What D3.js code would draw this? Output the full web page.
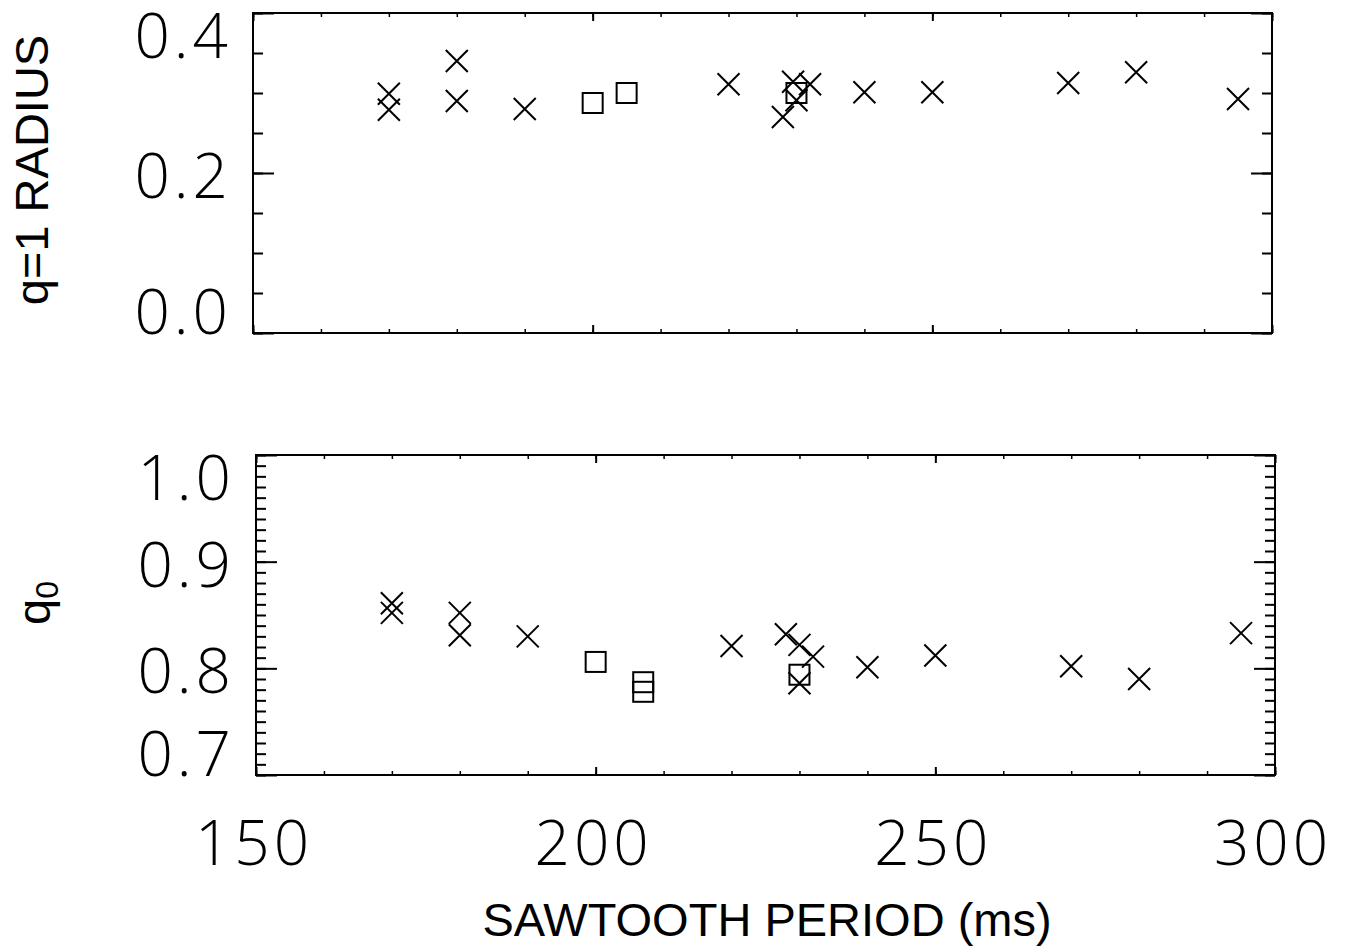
<!DOCTYPE html>
<meta charset="utf-8">
<head>
<style>
  body { margin: 0; background: #fff; }
  .num { font-family: "Open Sans", "Liberation Sans", sans-serif; font-weight: 300; font-size: 62px; letter-spacing: 4px; fill: #000; }
  .title { font-family: "Liberation Sans", Arial, sans-serif; font-size: 47px; fill: #000; }
  .frame { fill: none; stroke: #000; stroke-width: 2; }
  .tick line { stroke: #000; }
  .mark { fill: none; stroke: #000; stroke-width: 2; }
</style>
<script src="https://cdn.jsdelivr.net/npm/d3@7"></script>
</head>
<body>
<script>

// values
var topCrossX = [170, 170, 180, 180, 190, 220, 228, 229.5, 230, 232, 240, 250, 270, 280, 295];
var topCrossY = [0.299, 0.279, 0.340, 0.290, 0.280, 0.311, 0.270, 0.314, 0.291, 0.311, 0.301, 0.301, 0.3125, 0.326, 0.2925];
var topSquareX = [200, 205, 230];
var topSquareY = [0.2875, 0.300, 0.300];

var botCrossX = [170, 170, 180, 180, 190, 220, 228, 230, 232, 230, 240, 250, 270, 280, 295];
var botCrossY = [0.861, 0.852, 0.852, 0.831, 0.830, 0.821, 0.832, 0.822, 0.811, 0.786, 0.801, 0.812, 0.802, 0.790, 0.833];
var botSquareX = [200, 207, 207, 230];
var botSquareY = [0.806, 0.787, 0.778, 0.794];

var xTickLabels = ["150", "200", "250", "300"];
var topYLabels = ["0.0", "0.2", "0.4"];
var botYLabels = ["0.7", "0.8", "0.9", "1.0"];

var width = 1346, height = 948;
var svg = d3.select("body").append("svg")
    .attr("width", width)
    .attr("height", height);

var capH = 44;

function panel(p) {
  var x = d3.scaleLinear().domain([150, 300]).range([p.x0, p.x1]);
  var y = d3.scaleLinear().domain(p.yDomain).range([p.y1, p.y0]);
  var g = svg.append("g");

  // ticks on all four sides, pointing inwards
  function ticks(axis, tr, vals, len, sw) {
    var a = g.append("g").attr("transform", tr)
      .call(axis.tickValues(vals).tickSizeInner(-len).tickSizeOuter(0).tickFormat(""));
    a.select(".domain").remove();
    a.selectAll("line").attr("stroke-width", sw);
  }
  var xMinor = d3.range(150, 301, 10);
  var xMajor = xTickLabels.map(Number);
  ticks(d3.axisTop(x), "translate(0," + p.y0 + ")", xMinor, 4, 1.5);
  ticks(d3.axisTop(x), "translate(0," + p.y0 + ")", xMajor, 8, 2);
  ticks(d3.axisBottom(x), "translate(0," + p.y1 + ")", xMinor, 4, 1.5);
  ticks(d3.axisBottom(x), "translate(0," + p.y1 + ")", xMajor, 8, 2);
  ticks(d3.axisLeft(y), "translate(" + p.x0 + ",0)", p.yMinor, 10, 2);
  ticks(d3.axisLeft(y), "translate(" + p.x0 + ",0)", p.yLabels.map(Number), 21, 2);
  ticks(d3.axisRight(y), "translate(" + p.x1 + ",0)", p.yMinor, 10, 2);
  ticks(d3.axisRight(y), "translate(" + p.x1 + ",0)", p.yLabels.map(Number), 21, 2);

  g.append("rect").attr("class", "frame")
    .attr("x", p.x0).attr("y", p.y0)
    .attr("width", p.x1 - p.x0).attr("height", p.y1 - p.y0);

  // y labels, kept inside the frame at the ends
  g.selectAll(".ylab").data(p.yLabels).enter().append("text")
    .attr("class", "num")
    .attr("text-anchor", "end")
    .attr("x", p.x0 - 21)
    .attr("y", function(d) {
      var b = y(+d) + capH / 2 + 3;
      return Math.max(p.y0 + capH + 1, Math.min(p.y1 + 1, b));
    })
    .text(function(d) { return d; });

  var s = 11;
  g.selectAll(".cross").data(p.crossX).enter().append("path")
    .attr("class", "mark")
    .attr("d", function(d, i) {
      var cx = x(d), cy = y(p.crossY[i]);
      return "M" + (cx - s) + "," + (cy - s) + "L" + (cx + s) + "," + (cy + s) +
             "M" + (cx - s) + "," + (cy + s) + "L" + (cx + s) + "," + (cy - s);
    });
  g.selectAll(".sq").data(p.squareX).enter().append("rect")
    .attr("class", "mark")
    .attr("x", function(d) { return x(d) - 10; })
    .attr("y", function(d, i) { return y(p.squareY[i]) - 10; })
    .attr("width", 20).attr("height", 20);

  return x;
}

panel({x0: 253, x1: 1272, y0: 13, y1: 333, yDomain: [0, 0.4],
       yMinor: d3.range(0, 0.401, 0.05), yLabels: topYLabels,
       crossX: topCrossX, crossY: topCrossY, squareX: topSquareX, squareY: topSquareY});

var xb = panel({x0: 256, x1: 1275, y0: 455, y1: 775, yDomain: [0.7, 1.0],
       yMinor: d3.range(0.7, 1.0001, 0.01), yLabels: botYLabels,
       crossX: botCrossX, crossY: botCrossY, squareX: botSquareX, squareY: botSquareY});

// x labels under the bottom panel
svg.selectAll(".xlab").data(xTickLabels).enter().append("text")
  .attr("class", "num")
  .attr("text-anchor", "middle")
  .attr("x", function(d) { return xb(+d) - 2; })
  .attr("y", 865)
  .text(function(d) { return d; });

svg.append("text").attr("class", "title")
  .attr("text-anchor", "middle")
  .attr("x", 767).attr("y", 936)
  .text("SAWTOOTH PERIOD (ms)");

svg.append("text").attr("class", "title")
  .attr("text-anchor", "middle")
  .attr("transform", "translate(48,170) rotate(-90)")
  .text("q=1 RADIUS");

var q0 = svg.append("text").attr("class", "title")
  .attr("text-anchor", "middle")
  .attr("transform", "translate(50,603) rotate(-90)");
q0.append("tspan").text("q");
q0.append("tspan").attr("font-size", "32px").attr("dy", 8).text("0");

</script>
</body>
